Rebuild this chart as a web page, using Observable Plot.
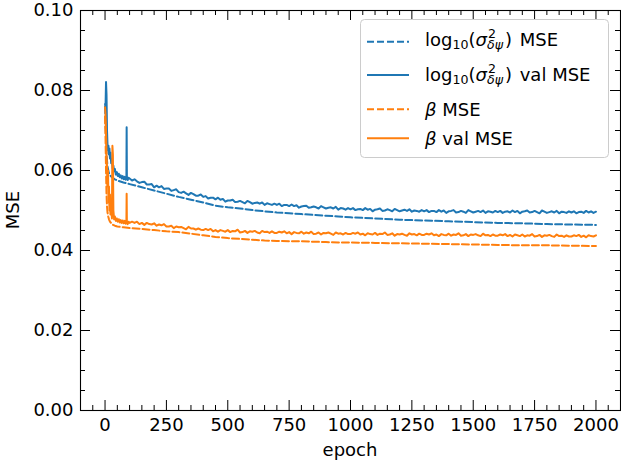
<!DOCTYPE html>
<html><head><meta charset="utf-8">
<script src="https://cdn.jsdelivr.net/npm/d3@7"></script>
<script src="https://cdn.jsdelivr.net/npm/@observablehq/plot@0.6"></script>
<style>body{margin:0;background:#fff} svg{display:block}</style>
</head><body><div id="chart"></div>
<script>
// ---- tick labels ----
const xMajor = [0, 250, 500, 750, 1000, 1250, 1500, 1750, 2000];
const yMajor = [0, 0.02, 0.04, 0.06, 0.08, 0.10];

// ---- log10(sigma^2) validation MSE (solid blue) ----
const sigValEarlyEpoch = [0,2,4,6,8,10,12,14,16,18,20,22,25,28,31,34,37,40,44,48,52,56,60,64,68,72,76,80,84,87,88,89,92,96];
const sigValEarly = [.0766,.0760,.0821,.0790,.0700,.0665,.0650,.0662,.0640,.0655,.0630,.0645,.0618,.0628,.0605,.0612,.0598,.0604,.0590,.0596,.0586,.0592,.0583,.0588,.0580,.0586,.0578,.0584,.0577,.0582,.0708,.0585,.0576,.0582];
// epochs 100, 110, ..., 2000
const sigValLate = [
 .0580,.0575,.0578,.0573,.0569,.0571,.0572,.0565,.0565,.0566,
 .0558,.0562,.0558,.0561,.0554,.0555,.0555,.0549,.0551,.0553,
 .0546,.0544,.0547,.0543,.0539,.0544,.0541,.0537,.0537,.0540,
 .0534,.0536,.0530,.0532,.0532,.0528,.0532,.0527,.0529,.0522,
 .0525,.0525,.0527,.0521,.0522,.0524,.0521,.0518,.0524,.0521,
 .0517,.0519,.0520,.0517,.0520,.0514,.0518,.0516,.0514,.0517,
 .0514,.0517,.0511,.0514,.0514,.0511,.0515,.0511,.0513,.0507,
 .0510,.0511,.0512,.0507,.0508,.0510,.0508,.0505,.0511,.0508,
 .0505,.0507,.0508,.0505,.0509,.0502,.0506,.0505,.0502,.0506,
 .0503,.0506,.0501,.0503,.0504,.0501,.0506,.0502,.0504,.0498,
 .0502,.0503,.0505,.0499,.0500,.0503,.0501,.0498,.0504,.0501,
 .0498,.0500,.0502,.0499,.0503,.0497,.0500,.0499,.0497,.0501,
 .0498,.0501,.0496,.0499,.0499,.0496,.0501,.0497,.0500,.0494,
 .0498,.0499,.0501,.0495,.0496,.0499,.0497,.0494,.0501,.0498,
 .0495,.0497,.0499,.0496,.0500,.0494,.0498,.0497,.0495,.0499,
 .0496,.0499,.0494,.0497,.0498,.0495,.0500,.0496,.0499,.0493,
 .0497,.0498,.0500,.0495,.0496,.0499,.0496,.0493,.0500,.0497,
 .0494,.0496,.0498,.0495,.0499,.0493,.0497,.0496,.0494,.0498,
 .0495,.0498,.0493,.0496,.0497,.0494,.0499,.0495,.0498,.0494,
 .0497];

// ---- log10(sigma^2) training MSE (dashed blue) ----
const sigTrainEpoch = [0,3,6,10,15,20,30,40,50,75,100,150,200,250,300,350,400,450,500,550,600,650,700,750,800,850,900,950,1000,1100,1200,1300,1400,1500,1600,1700,1800,1900,2000];
const sigTrain = [.0760,.0700,.0640,.0610,.0595,.0588,.0582,.0578,.0575,.0570,.0566,.0558,.0550,.0542,.0534,.0527,.0520,.0512,.0508,.0505,.0501,.0498,.0495,.0493,.0491,.0489,.0487,.0485,.0483,.0480,.0477,.0475,.0473,.0471,.0469,.0468,.0466,.0465,.0464];

// ---- beta validation MSE (solid orange) ----
const betaValEarlyEpoch = [0,2,4,6,8,10,12,14,16,18,20,22,25,28,30,32,34,37,40,44,48,52,56,60,64,68,72,76,80,84,87,88,89,92,96];
const betaValEarly = [.0758,.0740,.0700,.0640,.0610,.0560,.0600,.0520,.0560,.0500,.0540,.0490,.0510,.0480,.0662,.0640,.0500,.0478,.0485,.0474,.0480,.0472,.0478,.0470,.0476,.0469,.0475,.0468,.0474,.0467,.0472,.0542,.0470,.0466,.0472];
// epochs 100, 110, ..., 2000
const betaValLate = [
 .0469,.0472,.0469,.0472,.0466,.0469,.0464,.0469,.0466,.0465,
 .0468,.0462,.0465,.0463,.0466,.0460,.0460,.0462,.0456,.0460,
 .0458,.0459,.0456,.0453,.0459,.0455,.0455,.0452,.0455,.0452,
 .0451,.0454,.0451,.0454,.0448,.0451,.0447,.0451,.0449,.0447,
 .0451,.0446,.0449,.0448,.0452,.0445,.0446,.0449,.0444,.0448,
 .0447,.0449,.0445,.0443,.0449,.0446,.0447,.0444,.0448,.0444,
 .0444,.0447,.0445,.0448,.0443,.0446,.0441,.0446,.0444,.0443,
 .0447,.0442,.0445,.0443,.0447,.0441,.0442,.0445,.0440,.0444,
 .0443,.0445,.0442,.0439,.0445,.0442,.0443,.0440,.0444,.0441,
 .0441,.0444,.0442,.0445,.0440,.0442,.0438,.0443,.0441,.0440,
 .0444,.0439,.0442,.0441,.0445,.0439,.0440,.0443,.0437,.0441,
 .0440,.0442,.0439,.0437,.0443,.0440,.0441,.0438,.0442,.0439,
 .0439,.0442,.0440,.0443,.0438,.0440,.0436,.0441,.0439,.0438,
 .0442,.0437,.0440,.0439,.0443,.0437,.0438,.0441,.0436,.0440,
 .0439,.0441,.0438,.0436,.0442,.0438,.0439,.0436,.0440,.0437,
 .0437,.0440,.0438,.0441,.0436,.0439,.0435,.0440,.0438,.0436,
 .0440,.0435,.0438,.0437,.0441,.0435,.0436,.0439,.0434,.0438,
 .0437,.0439,.0436,.0434,.0440,.0436,.0437,.0434,.0438,.0435,
 .0435,.0438,.0436,.0439,.0434,.0437,.0433,.0438,.0436,.0435,
 .0438];

// ---- beta training MSE (dashed orange) ----
const betaTrainEpoch = [0,2,4,6,8,10,13,16,20,30,40,50,75,100,150,200,250,300,350,400,450,500,550,600,650,700,750,800,850,900,950,1000,1100,1200,1300,1400,1500,1600,1700,1800,1900,2000];
const betaTrain = [.0735,.0680,.0600,.0540,.0510,.0495,.0485,.0478,.0472,.0465,.0462,.0460,.0458,.0456,.0454,.0451,.0448,.0446,.0442,.0438,.0434,.0431,.0429,.0427,.0425,.0424,.0423,.0423,.0422,.0421,.0420,.0420,.0419,.0418,.0417,.0416,.0415,.0414,.0413,.0413,.0412,.0411];

const BLUE = "#1f77b4", ORANGE = "#ff7f0e";
const FONT = "DejaVu Sans", FS = 18;
const zip = (ex, vs) => ex.map((e, i) => ({epoch: e, value: vs[i]}));
const lateEpochs = d3.range(100, 2001, 10);
const sigValData = zip(sigValEarlyEpoch, sigValEarly).concat(zip(lateEpochs, sigValLate));
const betaValData = zip(betaValEarlyEpoch, betaValEarly).concat(zip(lateEpochs, betaValLate));
const sigTrainData = zip(sigTrainEpoch, sigTrain);
const betaTrainData = zip(betaTrainEpoch, betaTrain);

const xMinor = d3.range(-100, 2101, 50).filter(v => v % 250 !== 0);
const yMinor = d3.range(0, 21).map(i => i * 0.005).filter((v, i) => i % 4 !== 0);

const FW = 540, FH = 400; // frame size in px
const MAJ = 10, MIN = 5;  // tick lengths

const chart = Plot.plot({
  width: 621, height: 466,
  marginLeft: 80, marginRight: 1, marginTop: 10, marginBottom: 56,
  style: {fontFamily: FONT, fontSize: FS + "px", color: "black", background: "white"},
  x: {domain: [-100, 2100], axis: null},
  y: {domain: [0, 0.1], axis: null},
  marks: [
    Plot.line(sigTrainData, {x: "epoch", y: "value", stroke: BLUE, strokeWidth: 2, strokeDasharray: "7,3"}),
    Plot.line(sigValData, {x: "epoch", y: "value", stroke: BLUE, strokeWidth: 2}),
    Plot.line(betaTrainData, {x: "epoch", y: "value", stroke: ORANGE, strokeWidth: 2, strokeDasharray: "7,3"}),
    Plot.line(betaValData, {x: "epoch", y: "value", stroke: ORANGE, strokeWidth: 2}),
    // inward ticks on all four sides
    Plot.ruleX(xMajor, {x: d => d, insetTop: FH - MAJ, stroke: "black"}),
    Plot.ruleX(xMajor, {x: d => d, insetBottom: FH - MAJ, stroke: "black"}),
    Plot.ruleX(xMinor, {x: d => d, insetTop: FH - MIN, stroke: "black"}),
    Plot.ruleX(xMinor, {x: d => d, insetBottom: FH - MIN, stroke: "black"}),
    Plot.ruleY(yMajor, {y: d => d, insetRight: FW - MAJ, stroke: "black"}),
    Plot.ruleY(yMajor, {y: d => d, insetLeft: FW - MAJ, stroke: "black"}),
    Plot.ruleY(yMinor, {y: d => d, insetRight: FW - MIN, stroke: "black"}),
    Plot.ruleY(yMinor, {y: d => d, insetLeft: FW - MIN, stroke: "black"}),
    // tick labels
    Plot.text(xMajor, {x: d => d, text: d => String(d), frameAnchor: "bottom", lineAnchor: "top", dy: 8, fontSize: FS, fill: "black"}),
    Plot.text(yMajor, {y: d => d, text: d => d.toFixed(2), frameAnchor: "left", textAnchor: "end", lineAnchor: "middle", dx: -7, fontSize: FS, fill: "black"}),
    Plot.frame({stroke: "black", strokeWidth: 1.1})
  ]
});
document.getElementById("chart").appendChild(chart);

// ---- axis titles ----
const svg = d3.select(chart);
svg.append("text").attr("x", 350).attr("y", 456).attr("text-anchor", "middle")
  .attr("font-family", FONT).attr("font-size", FS).attr("fill", "black").text("epoch");
svg.append("text").attr("transform", "translate(19,210) rotate(-90)").attr("text-anchor", "middle")
  .attr("font-family", FONT).attr("font-size", FS).attr("fill", "black").text("MSE");

// ---- legend ----
const lg = svg.append("g").attr("font-family", FONT).attr("font-size", FS).attr("fill", "black").attr("text-anchor", "start");
lg.append("rect").attr("x", 360.5).attr("y", 19.5).attr("width", 248).attr("height", 138).attr("rx", 4)
  .attr("fill", "white").attr("fill-opacity", 0.8).attr("stroke", "#cccccc");
const entries = [
  {ly: 41.7, by: 45.5, color: BLUE, dash: true, kind: "sig", suffix: " MSE"},
  {ly: 75, by: 80.5, color: BLUE, dash: false, kind: "sig", suffix: " val MSE"},
  {ly: 109.3, by: 116, color: ORANGE, dash: true, kind: "beta", suffix: " MSE"},
  {ly: 138.3, by: 145, color: ORANGE, dash: false, kind: "beta", suffix: " val MSE"}
];
const SS = 12.6;
for (const e of entries) {
  lg.append("line").attr("x1", 367).attr("x2", 409).attr("y1", e.ly).attr("y2", e.ly)
    .attr("stroke", e.color).attr("stroke-width", 2).attr("stroke-dasharray", e.dash ? "7,3" : null);
  const t = lg.append("text").attr("x", 425).attr("y", e.by);
  if (e.kind === "sig") {
    t.append("tspan").text("log");
    t.append("tspan").attr("font-size", SS).attr("dy", 3.5).text("10");
    t.append("tspan").attr("dy", -3.5).text("(");
    t.append("tspan").attr("font-style", "italic").text("σ");
    t.append("tspan").attr("font-size", SS).attr("dy", -8).attr("dx", 1).text("2");
    t.append("tspan").attr("font-size", SS).attr("font-style", "italic").attr("dy", 11).attr("dx", -9).text("δψ");
    t.append("tspan").attr("dy", -3).attr("dx", 2).text(")");
    t.append("tspan").attr("dx", 2).text(e.suffix);
  } else {
    t.append("tspan").attr("font-style", "italic").text("β");
    t.append("tspan").text(e.suffix);
  }
}
</script>
</body></html>
